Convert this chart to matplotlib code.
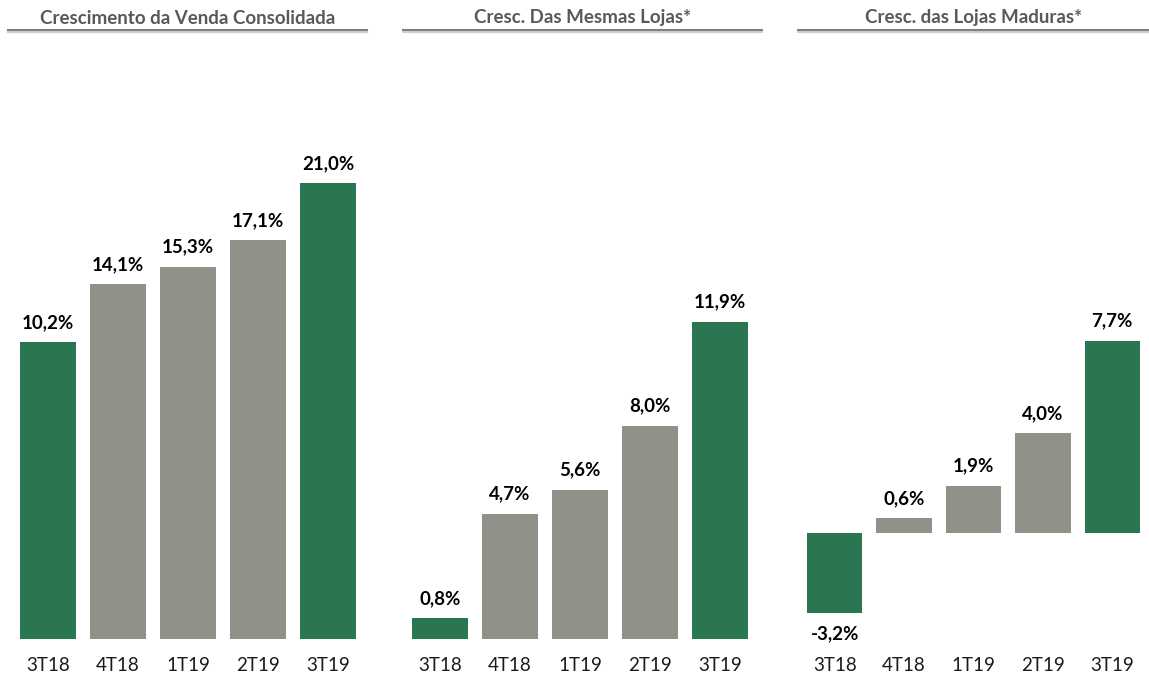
import matplotlib
matplotlib.use("Agg")
from matplotlib import pyplot as plt
from matplotlib.lines import Line2D

W, H = 1149, 677
GREEN = "#2a7650"
GRAY = "#91918a"

quarters = ["3T18", "4T18", "1T19", "2T19", "3T19"]
titles = ["Crescimento da Venda Consolidada", "Cresc. Das Mesmas Lojas*", "Cresc. das Lojas Maduras*"]
venda_consolidada = [10.2, 14.1, 15.3, 17.1, 21.0]
mesmas_lojas = [0.8, 4.7, 5.6, 8.0, 11.9]
lojas_maduras = [-3.2, 0.6, 1.9, 4.0, 7.7]
bar_colors = [GREEN, GRAY, GRAY, GRAY, GREEN]

plt.rcParams["font.family"] = ["Lato", "DejaVu Sans"]


def px_axes(fig, x0, x1, y_top, y_bot):
    return fig.add_axes([x0 / W, (H - y_bot) / H, (x1 - x0) / W, (y_bot - y_top) / H])


def draw_panel(fig, x0, x1, values, ylim, base, title, line_x0, line_x1):
    ax = px_axes(fig, x0, x1, 100, 639)
    xs = range(len(values))
    heights = [v - base for v in values]
    ax.bar(xs, heights, bottom=base, width=0.8, color=bar_colors)
    ax.set_xlim(-0.5, len(values) - 0.5)
    ax.set_ylim(*ylim)
    span = ylim[1] - ylim[0]
    for x, v in zip(xs, values):
        label = f"{v:.1f}%".replace(".", ",")
        if v >= 0:
            ax.text(x, v + span * 0.036, label, ha="center", va="center",
                    fontsize=13.5, fontweight="bold", color="black")
        else:
            ax.text(x, v - span * 0.038, label, ha="center", va="center",
                    fontsize=13.5, fontweight="bold", color="black")
    ax.set_yticks([])
    ax.set_xticks(list(xs))
    ax.set_xticklabels(quarters, fontsize=13.5, color="#1a1a1a")
    ax.tick_params(axis="x", length=0, pad=13)
    for s in ax.spines.values():
        s.set_visible(False)
    ax.patch.set_alpha(0)

    cx = (line_x0 + line_x1) / 2
    fig.text(cx / W, 1 - 18 / H, title, ha="center", va="center",
             fontsize=13.5, fontweight="bold", color="#595959")
    fig.add_artist(Line2D([line_x0 / W, line_x1 / W], [1 - 31.5 / H, 1 - 31.5 / H],
                          color="#d0d0d0", lw=1.5))
    fig.add_artist(Line2D([line_x0 / W, line_x1 / W], [1 - 30 / H, 1 - 30 / H],
                          color="#7f7f7f", lw=1.5))
    return ax


def main():
    fig = plt.figure(figsize=(W / 100, H / 100), dpi=100)
    fig.patch.set_facecolor("white")

    # panel 1 bars start at -10 (axis min), scale ~14.72 px per %
    draw_panel(fig, 13, 363, venda_consolidada, (-10, -10 + 539 / 14.72), -10,
               titles[0], 8, 367)
    draw_panel(fig, 405, 755, mesmas_lojas, (0, 539 / 26.67), 0,
               titles[1], 403, 762)
    draw_panel(fig, 800, 1147, lojas_maduras, (-106 / 25, 433 / 25), 0,
               titles[2], 798, 1149)

    fig.savefig("out.png", dpi=100, facecolor="white")


if __name__ == "__main__":
    main()
